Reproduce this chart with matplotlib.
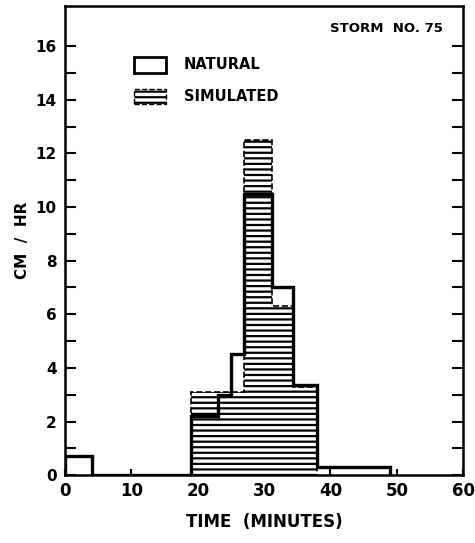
import matplotlib.pyplot as plt
from matplotlib.patches import Patch

plt.rcParams['font.family'] = 'DejaVu Sans'
plt.rcParams['font.weight'] = 'bold'
plt.rcParams['hatch.linewidth'] = 1.6

# natural rainfall intensity (step outline), cm/hr
nat_edges = [0, 4, 19, 23, 25, 27, 31.2, 34.3, 38, 49]
nat_vals = [0.7, 0, 2.2, 3.0, 4.5, 10.5, 7.0, 3.35, 0.3]

# simulated rainfall intensity (hatched bars), cm/hr
sim_edges = [19, 23, 27, 31.2, 34.3, 38]
sim_vals = [3.1, 3.1, 12.5, 6.3, 3.3]

x_ticks = [0, 10, 20, 30, 40, 50, 60]
y_ticks = [0, 2, 4, 6, 8, 10, 12, 14, 16]

fig = plt.figure(figsize=(4.75, 5.43), dpi=100)
ax = fig.add_axes([0.137, 0.125, 0.838, 0.864])

sim_left = sim_edges[:-1]
sim_w = [b - a for a, b in zip(sim_edges[:-1], sim_edges[1:])]
ax.bar(sim_left, sim_vals, width=sim_w, align='edge', facecolor='white',
       edgecolor='black', hatch='---', linewidth=0, zorder=2)
ax.stairs(sim_vals, sim_edges, color='black', linewidth=1.2, linestyle='--',
          zorder=2.5)
ax.stairs(nat_vals, nat_edges, color='black', linewidth=2.4, zorder=3)

ax.set_xlim(0, 60)
ax.set_ylim(0, 17.5)
ax.set_xticks(x_ticks)
ax.set_yticks(y_ticks)
ax.set_yticks(range(1, 17, 2), minor=True)
ax.tick_params(axis='y', which='both', direction='in', length=8, width=1.5,
               right=True, labelsize=11, pad=6)
ax.tick_params(axis='x', direction='in', length=4, width=1.5, labelsize=12, pad=5)
for s in ax.spines.values():
    s.set_linewidth(1.8)

ax.set_xlabel('TIME  (MINUTES)', fontsize=12, fontweight='bold', labelpad=9)
ax.set_ylabel('CM  /  HR', fontsize=11, fontweight='bold', labelpad=4)

ax.text(0.95, 0.965, 'STORM  NO. 75', transform=ax.transAxes, ha='right',
        va='top', fontsize=9.5, fontweight='bold')

handles = [Patch(facecolor='white', edgecolor='black', linewidth=2),
           Patch(facecolor='white', edgecolor='black', hatch='---',
                 linewidth=1, linestyle='--')]
ax.legend(handles, ['NATURAL', 'SIMULATED'], loc='upper left',
          bbox_to_anchor=(0.14, 0.92), frameon=False, fontsize=10.5,
          handlelength=2.2, handleheight=1.3, handletextpad=1.2,
          labelspacing=1.1)

fig.savefig('out.png', dpi=100)
